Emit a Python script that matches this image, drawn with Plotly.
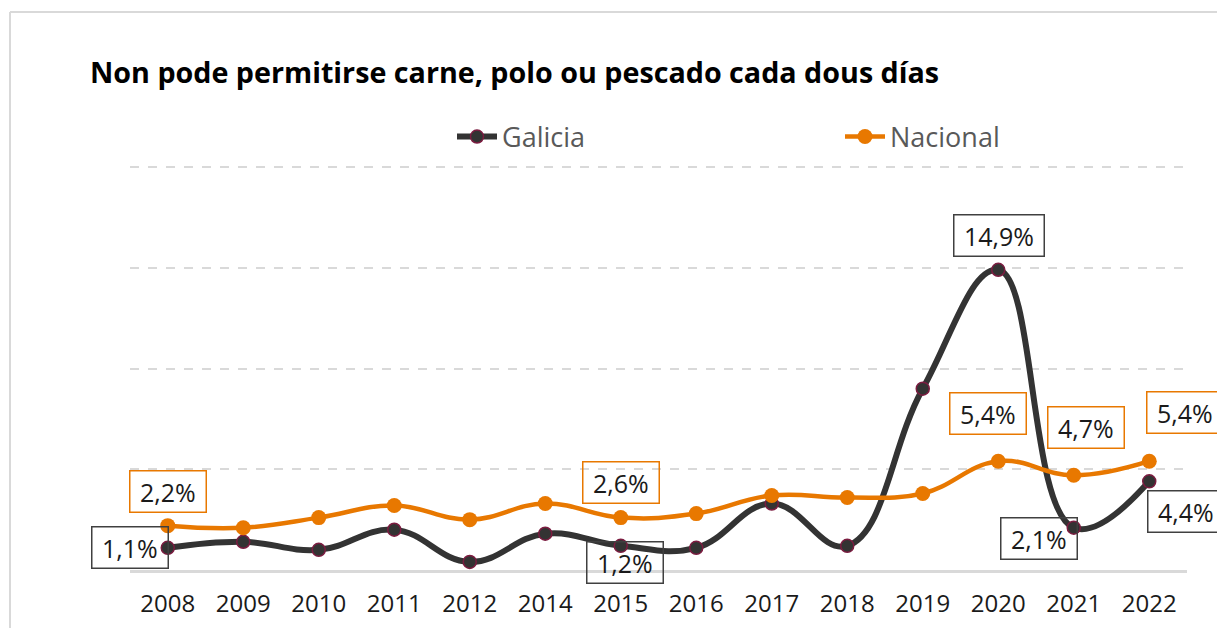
import plotly.graph_objects as go

years = ["2008", "2009", "2010", "2011", "2012", "2014", "2015", "2016",
         "2017", "2018", "2019", "2020", "2021", "2022"]
galicia = [1.1, 1.4, 1.0, 2.0, 0.4, 1.8, 1.2, 1.1, 3.3, 1.2, 9.0, 14.9, 2.1, 4.4]
nacional = [2.2, 2.1, 2.6, 3.2, 2.5, 3.3, 2.6, 2.8, 3.7, 3.6, 3.8, 5.4, 4.7, 5.4]

# labelled points: (index, xshift, yshift)
gal_labels = [(0, -38, 0), (6, 4, -17), (11, 1, 34), (12, -35, -11), (13, 37, -30)]
nac_labels = [(0, 0, 34), (6, 0, 35), (11, -10, 48), (12, 12, 48), (13, 36, 49)]

ORANGE = "#E87800"
DARK = "#333333"
FONT = "Open Sans"
W, H = 1217, 620  # page body has an 8px margin
L, R, T, B = 122, 38, 153, 58
PH = H - T - B
YMAX = 20.3

fig = go.Figure()
fig.add_trace(go.Scatter(
    x=years, y=galicia, name="Galicia", mode="lines+markers", legend="legend",
    line=dict(color=DARK, width=6, shape="spline", smoothing=1.2),
    marker=dict(size=13, color=DARK, line=dict(color="#7B1C40", width=1.5)),
))
fig.add_trace(go.Scatter(
    x=years, y=nacional, name="Nacional", mode="lines+markers", legend="legend2",
    line=dict(color=ORANGE, width=4.5, shape="spline", smoothing=1.2),
    marker=dict(size=15, color=ORANGE),
))

def fmt(v):
    return "\u00a0" + f"{v:.1f}%".replace(".", ",") + "\u00a0"

anns = []
for series, labels, border in ((galicia, gal_labels, "#404040"), (nacional, nac_labels, ORANGE)):
    for i, dx, dy in labels:
        anns.append(dict(x=i, y=series[i], xref="x", yref="y",
                         text=fmt(series[i]), showarrow=False,
                         xshift=dx, yshift=dy, bgcolor="rgba(255,255,255,0)",
                         bordercolor=border, borderwidth=1.5, borderpad=3,
                         font=dict(family=FONT, size=25, color="#1a1a1a")))

leg_common = dict(orientation="h", xref="container", yref="paper",
                  xanchor="left", yanchor="middle", y=(H - B - 129) / PH,
                  itemwidth=40,
                  font=dict(family=FONT, size=27, color="#595959"),
                  bgcolor="rgba(0,0,0,0)")

y_top_frame = (H - B - 4) / PH
x_left_frame = (2 - L) / (W - L - R)

fig.update_layout(
    width=W, height=H,
    margin=dict(l=L, r=R, t=T, b=B, autoexpand=False),
    paper_bgcolor="white", plot_bgcolor="white",
    font=dict(family=FONT, color="#1a1a1a"),
    title=dict(text="<b>Non pode permitirse carne, polo ou pescado cada dous días</b>",
               x=82 / W, xanchor="left", xref="container",
               y=1 - 65 / H, yanchor="middle", yref="container",
               font=dict(family=FONT, size=28.7, color="black")),
    showlegend=True,
    legend=dict(x=(452 - 8) / W, **leg_common),
    legend2=dict(x=(840 - 8) / W, **leg_common),
    annotations=anns,
    shapes=[
        dict(type="line", xref="paper", yref="paper", x0=x_left_frame, x1=1.05,
             y0=y_top_frame, y1=y_top_frame, line=dict(color="#d9d9d9", width=2)),
        dict(type="line", xref="paper", yref="paper", x0=x_left_frame,
             x1=x_left_frame, y0=-0.2, y1=y_top_frame,
             line=dict(color="#d9d9d9", width=2)),
    ],
)
fig.update_xaxes(type="category", range=[-0.5, 13.5], showgrid=False, automargin=False,
                 showline=True, linecolor="#d9d9d9", linewidth=3,
                 ticks="", tickfont=dict(family=FONT, size=24, color="#1a1a1a"),
                 ticklabelstandoff=10)
fig.update_yaxes(range=[0, YMAX], tickvals=[5, 10, 15, 20], showgrid=True, automargin=False,
                 gridcolor="#d9d9d9", griddash="dash", gridwidth=1.5,
                 zeroline=False, showticklabels=False)

fig.write_html("out.html")
